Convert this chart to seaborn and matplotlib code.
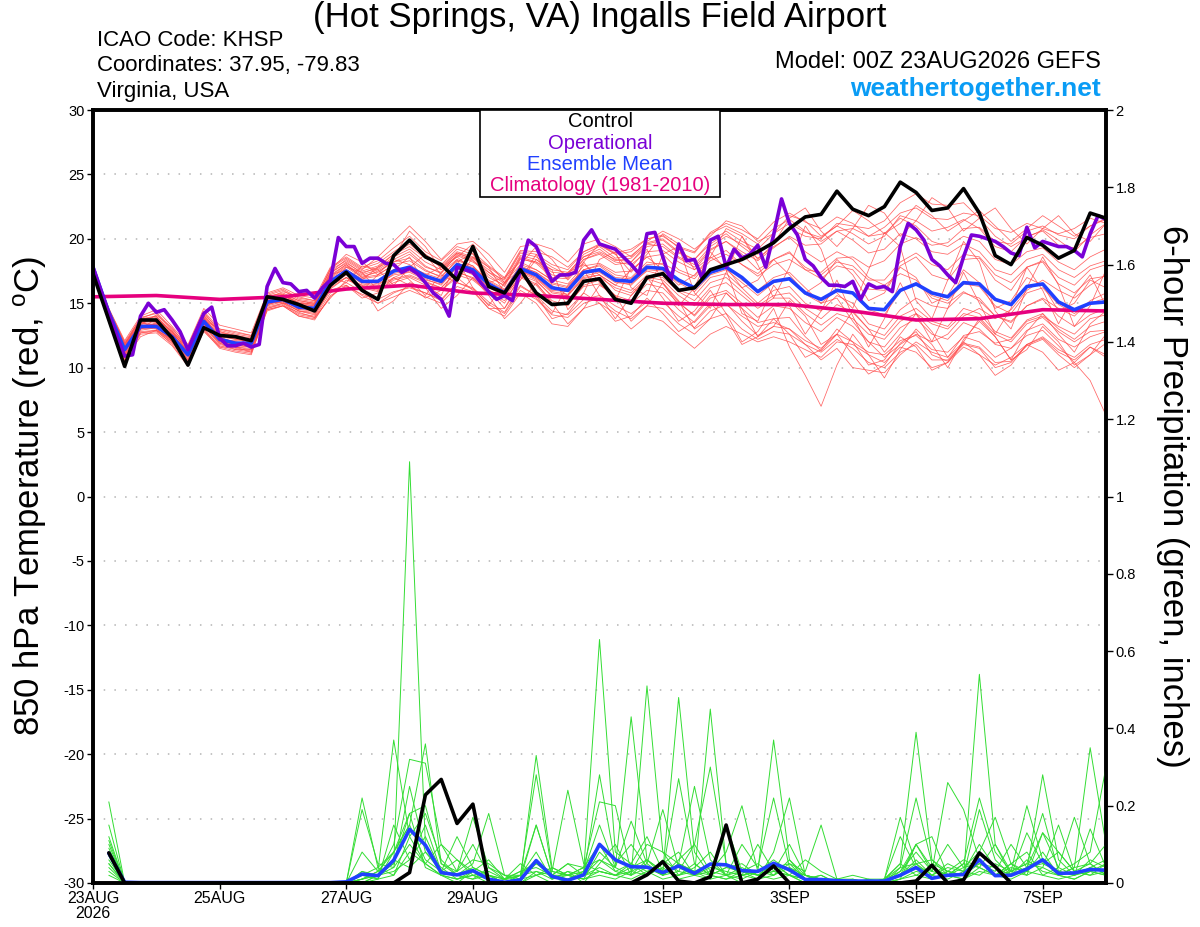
import numpy as np
import pandas as pd
import matplotlib
matplotlib.use("Agg")
import matplotlib.pyplot as plt
from matplotlib.patches import Rectangle
import seaborn as sns

# ---- time axes (00Z 23AUG2026 run, 6-hourly / 3-hourly operational) ----
start = pd.Timestamp("2026-08-23 00:00")
times6 = pd.date_range(start, periods=65, freq="6h")
times3 = pd.date_range(start, periods=129, freq="3h")
clim_times = pd.date_range(start, periods=17, freq="24h")
pcp_times = times6[1:]

tick_dates = ["2026-08-23", "2026-08-25", "2026-08-27", "2026-08-29",
              "2026-09-01", "2026-09-03", "2026-09-05", "2026-09-07"]
tick_labels = ["23AUG\n2026", "25AUG", "27AUG", "29AUG", "1SEP", "3SEP", "5SEP", "7SEP"]

# ---- 850 hPa temperature (C) ----
control_t = [17.3, 13.7, 10.1, 13.7, 13.7, 12.3, 10.2, 13.1, 12.5, 12.4, 12.1, 15.5, 15.3, 14.9, 14.4,
             16.4, 17.4, 16.0, 15.3, 18.7, 19.9, 18.6, 18.0, 16.8, 19.4, 16.3, 15.8, 17.6, 15.8, 14.9,
             15.0, 16.7, 16.9, 15.3, 15.0, 17.0, 17.3, 16.0, 16.2, 17.6, 18.0, 18.4, 19.0, 19.7, 20.8,
             21.7, 21.9, 23.7, 22.3, 21.8, 22.5, 24.4, 23.6, 22.2, 22.4, 23.9, 22.0, 18.7, 18.0, 20.1,
             19.5, 18.5, 19.1, 22.0, 21.6]

mean_t = [17.8, 14.3, 11.4, 13.2, 13.2, 12.4, 11.0, 13.6, 12.2, 11.9, 11.9, 15.1, 15.3, 14.7, 14.6,
          16.7, 17.5, 16.7, 16.7, 17.5, 17.8, 17.1, 16.7, 18.0, 17.6, 16.5, 15.8, 17.7, 17.2, 16.2,
          16.0, 17.4, 17.6, 16.8, 16.7, 17.8, 17.7, 16.8, 16.2, 17.4, 17.8, 17.0, 15.9, 16.7, 16.9,
          15.8, 15.3, 16.0, 15.8, 14.6, 14.5, 16.0, 16.5, 15.8, 15.5, 16.6, 16.5, 15.3, 14.9, 16.3,
          16.5, 15.1, 14.5, 15.0, 15.1]

oper_t = [17.8, 16.0, 14.2, 12.5, 10.9, 11.0, 14.0, 15.0, 14.3, 14.5, 13.7, 12.8, 11.4, 12.8, 14.2,
          14.7, 12.3, 11.7, 11.7, 11.9, 11.6, 11.8, 16.3, 17.7, 16.6, 16.5, 15.9, 16.0, 15.4, 16.2,
          16.8, 20.1, 19.4, 19.4, 18.1, 18.5, 18.5, 18.1, 18.0, 17.4, 17.7, 17.3, 16.6, 15.8, 15.3,
          14.0, 17.8, 17.6, 17.4, 16.6, 15.9, 15.3, 15.6, 15.2, 17.6, 19.9, 19.4, 18.0, 16.7, 17.2,
          17.2, 17.4, 19.9, 20.7, 19.6, 19.4, 19.2, 18.6, 18.0, 17.3, 20.4, 20.5, 18.6, 16.7, 19.6,
          18.3, 18.4, 16.9, 19.9, 20.2, 17.8, 19.2, 18.5, 18.8, 19.5, 17.8, 20.3, 23.1, 21.2, 20.3,
          18.4, 17.9, 17.0, 16.4, 16.4, 16.3, 16.7, 15.3, 16.5, 16.2, 16.3, 15.9, 19.4, 21.2, 20.7,
          19.9, 18.4, 17.9, 17.2, 16.6, 18.6, 20.3, 20.2, 20.0, 19.8, 19.4, 18.9, 18.7, 20.9, 19.3,
          19.8, 19.6, 19.4, 19.4, 19.1, 18.6, 20.4, 21.8, 21.5]

clim_t = [15.5, 15.6, 15.3, 15.5, 16.1, 16.4, 15.8, 15.6, 15.3, 15.0, 14.9, 14.9, 14.4, 13.7,
          13.8, 14.5, 14.4]

# ensemble members (6-hourly)
mem01 = [17.6, 14.5, 11.8, 13.9, 14.2, 12.9, 11.5, 14.2, 12.9, 12.6, 12.4, 15.6, 16.0, 15.3, 15.1,
         17.6, 18.3, 17.5, 17.9, 18.8, 19.4, 18.5, 17.9, 19.0, 18.6, 17.4, 16.8, 18.9, 18.6, 17.8,
         17.2, 18.6, 19.2, 18.3, 18.5, 19.6, 19.9, 18.9, 18.4, 19.8, 20.6, 19.8, 19.2, 20.4, 21.2,
         20.5, 20.1, 21.0, 20.4, 19.6, 20.2, 21.8, 21.4, 20.6, 20.9, 21.5, 20.8, 19.4, 19.0, 20.2,
         20.6, 19.5, 19.3, 20.1, 20.4]
mem02 = [17.9, 13.8, 10.9, 12.8, 12.9, 12.0, 10.4, 13.2, 11.8, 11.5, 11.3, 14.7, 15.0, 14.2, 14.0,
         16.1, 17.0, 16.2, 15.9, 16.8, 17.1, 16.6, 16.2, 17.5, 16.9, 15.9, 15.0, 17.1, 16.5, 15.2,
         14.8, 16.4, 16.8, 15.6, 15.2, 16.5, 16.2, 15.0, 14.1, 15.6, 16.0, 15.0, 13.9, 14.8, 14.6,
         13.5, 12.8, 13.9, 13.2, 12.0, 11.6, 13.1, 13.8, 12.6, 12.2, 13.5, 13.0, 11.8, 11.5, 12.9,
         13.4, 12.2, 11.6, 12.4, 12.8]
mem03 = [18.0, 14.2, 11.2, 13.5, 13.6, 12.6, 11.2, 13.9, 12.4, 12.2, 12.0, 15.4, 15.6, 15.0, 14.8,
         17.0, 17.9, 17.1, 17.4, 18.2, 18.5, 17.6, 17.0, 18.4, 17.9, 16.5, 16.0, 18.0, 17.6, 16.8,
         16.5, 17.9, 18.1, 17.4, 17.5, 18.6, 18.8, 17.6, 17.1, 18.5, 19.1, 18.0, 17.3, 18.4, 19.0,
         17.6, 16.9, 17.9, 17.6, 16.1, 16.0, 17.9, 18.6, 17.2, 16.8, 18.4, 18.5, 16.8, 16.0, 17.8,
         18.2, 16.5, 15.8, 16.9, 17.1]
mem04 = [17.5, 13.6, 11.0, 12.9, 13.1, 12.2, 10.9, 13.4, 12.0, 11.6, 11.5, 14.9, 15.2, 14.5, 14.4,
         16.5, 17.4, 16.5, 16.3, 17.0, 17.5, 16.9, 16.4, 17.8, 17.2, 16.0, 15.5, 17.4, 16.8, 15.5,
         15.6, 17.0, 17.2, 16.0, 15.6, 16.9, 16.5, 15.1, 14.0, 15.4, 15.8, 14.6, 13.5, 13.8, 13.9,
         12.4, 11.3, 12.6, 11.0, 9.5, 10.2, 11.9, 12.8, 11.0, 10.5, 11.8, 11.5, 10.0, 10.4, 11.8,
         12.3, 11.2, 10.6, 11.6, 11.0]
mem05 = [17.7, 14.3, 11.6, 13.4, 13.3, 12.5, 11.3, 13.8, 12.5, 12.3, 12.1, 15.2, 15.6, 15.0, 14.9,
         17.2, 18.0, 17.2, 17.6, 18.4, 19.0, 17.9, 17.3, 18.8, 18.3, 17.2, 16.3, 18.5, 18.1, 17.0,
         16.9, 18.4, 18.8, 18.0, 18.2, 19.4, 19.6, 18.6, 18.0, 19.4, 20.2, 19.6, 18.8, 19.9, 20.8,
         20.2, 20.0, 21.2, 21.0, 20.8, 21.4, 22.8, 23.5, 22.7, 22.6, 22.8, 21.6, 20.2, 19.4, 20.1,
         20.7, 19.9, 19.0, 20.3, 21.2]
mem06 = [17.4, 13.5, 10.5, 12.6, 12.7, 11.7, 10.1, 12.9, 11.5, 11.2, 11.0, 14.5, 14.8, 14.0, 13.7,
         15.6, 16.3, 15.7, 15.3, 15.9, 16.2, 15.8, 15.3, 16.6, 16.2, 15.1, 14.3, 16.3, 15.6, 14.4,
         14.1, 15.3, 15.6, 14.8, 14.2, 15.1, 15.1, 14.0, 13.1, 14.4, 14.9, 14.0, 13.2, 13.5, 13.0,
         12.1, 11.5, 12.6, 12.0, 11.2, 11.0, 12.1, 12.5, 11.4, 11.2, 12.4, 12.0, 10.8, 11.5, 12.5,
         12.9, 11.7, 10.4, 9.0, 6.3]
mem07 = [17.8, 14.0, 11.5, 13.0, 13.5, 12.3, 11.1, 13.6, 12.3, 12.0, 11.9, 15.0, 15.3, 14.8, 14.5,
         16.8, 17.6, 16.9, 17.1, 17.6, 17.8, 17.3, 16.9, 18.1, 17.8, 16.8, 16.1, 17.9, 17.4, 16.5,
         16.2, 17.6, 17.9, 17.0, 16.9, 18.0, 18.1, 17.4, 16.9, 18.3, 18.8, 18.0, 17.1, 18.0, 18.4,
         17.6, 17.4, 18.5, 18.6, 17.8, 18.3, 19.6, 20.1, 19.5, 19.7, 20.8, 20.9, 19.8, 19.6, 20.6,
         21.0, 20.3, 20.0, 21.0, 21.5]
mem08 = [17.6, 13.9, 11.1, 13.1, 13.0, 12.1, 10.7, 13.5, 12.0, 11.8, 11.7, 15.0, 15.1, 14.4, 14.3,
         16.4, 17.2, 16.3, 16.0, 16.6, 17.0, 16.4, 16.0, 17.2, 16.8, 15.8, 15.2, 17.0, 16.4, 15.0,
         15.0, 16.3, 16.5, 15.5, 15.0, 16.0, 15.8, 14.5, 13.5, 14.8, 15.0, 13.6, 12.5, 13.2, 13.0,
         11.8, 10.6, 11.5, 10.0, 9.8, 9.6, 11.0, 12.0, 11.2, 10.8, 12.5, 12.8, 11.9, 12.2, 13.6,
         14.0, 13.2, 12.6, 13.8, 14.1]
mem09 = [17.9, 14.6, 12.1, 14.0, 14.5, 13.2, 11.8, 14.6, 13.3, 13.0, 12.7, 15.8, 16.2, 15.6, 15.4,
         17.8, 18.6, 17.8, 18.3, 19.3, 20.2, 19.0, 18.3, 19.4, 19.0, 17.9, 17.0, 19.1, 19.0, 18.6,
         17.8, 19.0, 19.6, 18.9, 19.2, 20.0, 20.3, 19.3, 18.9, 20.4, 21.0, 20.4, 19.6, 20.8, 21.5,
         20.6, 19.8, 20.6, 19.9, 18.9, 19.2, 20.4, 20.0, 19.0, 18.8, 19.6, 19.0, 17.6, 17.2, 18.4,
         18.8, 17.6, 17.0, 17.9, 18.3]
mem10 = [17.5, 14.1, 11.4, 13.3, 13.2, 12.4, 11.0, 13.7, 12.2, 11.9, 11.8, 15.1, 15.4, 14.7, 14.6,
         16.7, 17.5, 16.6, 16.6, 17.5, 17.7, 17.0, 16.6, 18.0, 17.6, 16.4, 15.8, 17.6, 17.0, 16.0,
         15.9, 17.3, 17.5, 16.7, 16.4, 17.6, 17.5, 16.6, 15.9, 17.2, 17.6, 16.6, 15.6, 16.6, 16.9,
         15.7, 15.0, 16.0, 15.8, 14.5, 14.1, 15.9, 16.6, 15.6, 15.2, 16.5, 16.3, 14.8, 14.2, 15.8,
         16.2, 14.9, 14.2, 15.0, 15.4]
mem11 = [17.6, 13.7, 10.8, 12.7, 12.8, 11.9, 10.5, 13.0, 11.7, 11.4, 11.2, 14.6, 14.9, 14.1, 13.9,
         15.8, 16.6, 15.9, 15.0, 15.5, 16.0, 15.5, 15.0, 16.3, 15.9, 14.6, 14.0, 15.8, 15.0, 13.4,
         13.2, 14.6, 15.0, 14.2, 13.0, 14.0, 13.6, 12.5, 11.5, 12.6, 13.2, 12.6, 12.0, 12.4, 12.0,
         11.4, 10.8, 12.0, 11.8, 11.0, 10.4, 11.6, 11.2, 10.0, 10.4, 11.6, 11.0, 10.2, 10.8, 11.8,
         12.4, 11.4, 10.8, 11.8, 12.2]
mem12 = [17.8, 14.4, 11.9, 13.7, 14.0, 12.8, 11.6, 14.3, 12.8, 12.5, 12.3, 15.5, 15.8, 15.2, 15.0,
         17.4, 18.1, 17.4, 17.7, 18.6, 19.2, 18.2, 17.6, 18.9, 18.4, 17.0, 16.4, 18.6, 18.2, 17.2,
         17.0, 18.4, 18.9, 18.2, 18.0, 19.0, 19.1, 18.2, 17.6, 19.1, 19.8, 19.0, 18.3, 19.3, 20.2,
         19.5, 19.6, 20.6, 20.8, 20.2, 20.9, 22.0, 22.4, 21.6, 21.5, 22.0, 21.8, 20.8, 20.5, 21.2,
         20.8, 20.4, 20.8, 21.6, 21.2]
mem13 = [17.7, 13.9, 11.3, 13.2, 13.4, 12.3, 10.9, 13.5, 12.1, 11.7, 11.6, 14.9, 15.2, 14.6, 14.5,
         16.6, 17.3, 16.8, 16.5, 17.2, 17.4, 16.8, 16.5, 17.8, 17.4, 16.2, 15.6, 17.5, 17.0, 15.9,
         15.7, 17.1, 17.4, 16.6, 16.5, 17.5, 17.2, 16.0, 15.6, 17.0, 17.3, 16.2, 15.0, 16.0, 16.3,
         15.0, 14.4, 15.6, 15.0, 13.4, 13.0, 14.5, 15.4, 14.8, 14.6, 15.8, 15.4, 14.0, 13.5, 14.8,
         15.3, 14.0, 13.2, 14.1, 14.6]
mem14 = [17.4, 14.0, 11.4, 13.2, 13.4, 12.3, 11.0, 13.6, 12.3, 12.0, 11.8, 15.2, 15.4, 14.6, 14.6,
         16.9, 17.8, 17.0, 17.2, 18.0, 18.3, 17.5, 17.1, 18.3, 17.9, 16.7, 16.0, 17.8, 17.4, 16.6,
         16.3, 17.6, 18.0, 17.2, 17.0, 18.2, 18.0, 16.8, 16.1, 17.5, 17.9, 16.8, 16.0, 17.0, 17.4,
         16.2, 15.0, 15.4, 13.6, 12.0, 10.8, 11.8, 12.6, 12.0, 12.6, 14.0, 14.6, 13.8, 14.5, 16.0,
         16.8, 16.0, 15.4, 16.4, 17.2]
mem15 = [17.6, 14.2, 11.6, 13.5, 13.8, 12.7, 11.4, 14.0, 12.6, 12.3, 12.2, 15.3, 15.6, 15.1, 14.9,
         17.3, 18.2, 17.3, 17.8, 18.8, 19.6, 18.6, 17.8, 18.9, 18.5, 17.6, 16.6, 18.7, 18.4, 17.4,
         17.3, 18.8, 19.4, 18.5, 18.7, 19.7, 20.0, 19.0, 18.4, 19.6, 20.4, 19.4, 18.5, 19.4, 20.1,
         19.0, 18.2, 19.0, 18.4, 17.0, 16.4, 17.3, 16.8, 15.4, 15.0, 15.9, 15.2, 14.0, 13.6, 14.8,
         15.4, 14.6, 14.0, 15.2, 15.8]
mem16 = [17.5, 13.8, 11.0, 13.0, 13.2, 12.1, 10.6, 13.3, 11.9, 11.6, 11.4, 14.8, 15.1, 14.4, 14.2,
         16.2, 17.0, 16.4, 16.2, 16.9, 17.2, 16.7, 16.2, 17.4, 17.0, 16.0, 15.4, 17.2, 16.7, 15.6,
         15.3, 16.6, 17.0, 16.2, 15.8, 17.0, 16.8, 15.6, 14.8, 16.2, 16.6, 15.6, 14.6, 15.4, 15.4,
         14.2, 13.3, 14.2, 13.8, 12.6, 12.2, 13.6, 14.2, 13.4, 13.0, 14.2, 13.9, 12.6, 12.0, 13.4,
         13.9, 12.8, 12.0, 12.8, 12.9]
mem17 = [17.7, 14.3, 11.7, 13.6, 13.6, 12.6, 11.2, 13.8, 12.5, 12.2, 12.0, 15.3, 15.5, 14.9, 14.7,
         17.1, 18.0, 17.0, 17.5, 18.2, 18.8, 17.8, 17.4, 18.7, 18.2, 17.4, 16.5, 18.4, 18.2, 17.6,
         17.4, 18.6, 19.0, 18.4, 18.2, 19.6, 19.4, 18.5, 17.8, 19.2, 19.8, 18.8, 17.6, 18.4, 18.9,
         17.8, 17.2, 18.2, 17.9, 16.8, 16.8, 18.2, 18.9, 18.0, 17.6, 18.8, 18.6, 17.2, 16.6, 17.8,
         18.3, 17.0, 16.4, 17.6, 18.0]
mem18 = [17.8, 13.7, 10.7, 12.7, 12.9, 11.8, 10.2, 13.0, 11.6, 11.3, 11.1, 14.5, 14.8, 14.0, 13.8,
         15.5, 16.4, 15.6, 15.0, 15.8, 16.3, 15.8, 15.2, 16.6, 16.1, 14.9, 14.2, 16.0, 15.3, 14.1,
         13.9, 15.0, 15.4, 14.4, 13.8, 14.8, 14.6, 13.4, 12.6, 13.8, 14.2, 13.0, 12.2, 12.8, 12.6,
         11.8, 11.2, 12.2, 11.5, 10.4, 10.0, 11.2, 11.8, 10.6, 10.6, 11.9, 11.6, 10.4, 10.5, 11.7,
         12.2, 11.0, 10.0, 11.0, 11.9]
mem19 = [17.9, 14.5, 12.0, 13.8, 14.3, 13.0, 11.7, 14.4, 13.0, 12.7, 12.5, 15.7, 16.1, 15.4, 15.2,
         17.7, 18.5, 17.7, 18.1, 19.0, 19.8, 18.8, 18.0, 19.2, 18.8, 17.8, 16.9, 19.0, 18.8, 18.0,
         17.6, 19.0, 19.5, 18.8, 19.0, 20.0, 20.2, 19.4, 19.0, 20.5, 21.2, 20.7, 20.0, 21.3, 22.0,
         21.3, 20.8, 21.7, 21.2, 20.2, 20.4, 21.6, 21.0, 19.8, 19.4, 20.2, 19.8, 18.4, 18.0, 19.0,
         19.3, 18.2, 17.6, 18.6, 19.2]
mem20 = [17.6, 13.9, 11.2, 13.1, 13.2, 12.2, 10.8, 13.4, 12.1, 11.8, 11.6, 15.0, 15.3, 14.6, 14.5,
         16.6, 17.4, 16.6, 16.4, 17.3, 17.6, 17.0, 16.6, 17.9, 17.4, 16.3, 15.7, 17.5, 16.9, 15.8,
         15.6, 16.9, 17.2, 16.4, 16.0, 17.2, 17.0, 15.9, 15.2, 16.6, 17.0, 15.9, 14.8, 15.6, 15.8,
         14.6, 13.8, 14.9, 14.3, 13.0, 12.5, 14.0, 14.6, 13.6, 13.2, 14.6, 14.2, 12.8, 12.3, 13.7,
         14.2, 13.0, 12.2, 13.2, 13.6]
mem21 = [17.5, 14.0, 11.3, 13.4, 13.5, 12.5, 10.9, 13.5, 12.4, 11.9, 11.7, 15.0, 15.2, 14.7, 14.4,
         16.2, 17.8, 17.4, 16.0, 17.6, 18.6, 16.4, 15.6, 18.2, 18.9, 16.0, 14.6, 16.8, 18.4, 17.6,
         14.5, 15.8, 18.4, 19.0, 16.2, 15.6, 18.8, 19.4, 15.8, 14.6, 17.4, 20.2, 18.0, 15.4, 17.8,
         21.0, 19.2, 15.8, 14.6, 17.6, 20.5, 19.4, 15.2, 13.8, 16.8, 19.8, 18.2, 14.4, 13.0, 16.2,
         18.6, 16.4, 13.2, 14.8, 17.6]
mem22 = [17.9, 14.4, 11.5, 13.0, 13.8, 12.8, 11.2, 13.3, 12.6, 12.4, 11.9, 15.2, 15.0, 14.9, 14.8,
         17.0, 16.6, 17.9, 17.6, 16.4, 17.8, 18.8, 17.2, 16.6, 18.6, 17.8, 15.8, 16.8, 18.8, 16.4,
         15.6, 18.2, 16.6, 15.2, 17.8, 19.2, 16.6, 14.8, 16.2, 19.0, 17.6, 14.2, 13.6, 16.4, 14.8,
         12.6, 14.4, 16.8, 14.0, 11.6, 13.8, 16.6, 14.2, 12.0, 14.6, 17.4, 15.0, 12.6, 14.6, 17.8,
         16.0, 13.4, 15.6, 17.2, 14.8]
mem23 = [17.7, 14.1, 11.6, 13.6, 13.0, 12.0, 11.4, 13.9, 12.1, 12.1, 12.3, 14.8, 15.5, 14.5, 14.7,
         16.4, 17.0, 16.0, 17.2, 18.0, 16.8, 15.6, 17.4, 18.4, 16.2, 14.8, 16.6, 17.6, 15.4, 14.2,
         16.4, 17.6, 15.6, 13.8, 15.6, 17.0, 15.4, 13.6, 14.4, 16.0, 14.2, 12.0, 12.8, 14.6, 11.6,
         9.4, 7.0, 10.2, 12.6, 11.0, 9.2, 11.4, 13.0, 11.8, 10.0, 12.2, 13.6, 12.4, 10.6, 12.8,
         14.2, 12.6, 11.2, 13.4, 14.4]
mem24 = [17.8, 14.6, 11.9, 13.3, 14.1, 13.1, 11.5, 13.7, 13.0, 12.8, 12.5, 15.4, 15.9, 15.5, 15.2,
         17.6, 18.8, 18.2, 17.2, 18.6, 20.6, 19.4, 17.6, 18.6, 19.6, 18.2, 16.6, 18.0, 19.4, 18.4,
         16.8, 18.2, 19.6, 18.8, 17.4, 18.8, 20.4, 19.6, 17.6, 18.6, 20.8, 20.2, 18.4, 19.6, 21.6,
         22.4, 20.6, 19.4, 20.8, 22.6, 22.0, 20.2, 21.4, 23.2, 22.4, 20.6, 21.6, 22.4, 20.8, 19.6,
         20.8, 21.8, 20.4, 19.8, 21.2]
mem25 = [17.4, 13.6, 10.6, 12.4, 12.9, 12.2, 10.3, 12.8, 11.6, 11.6, 11.2, 14.4, 14.8, 14.3, 13.9,
         15.4, 16.8, 16.4, 14.4, 15.2, 16.6, 16.2, 14.6, 15.6, 17.0, 15.6, 13.8, 15.0, 16.6, 15.0,
         13.4, 14.6, 16.4, 15.6, 13.6, 14.8, 16.6, 15.2, 13.0, 13.8, 15.8, 14.6, 12.4, 13.2, 15.2,
         14.0, 11.8, 12.6, 14.4, 13.0, 11.2, 12.6, 14.2, 12.8, 10.8, 12.0, 13.8, 12.4, 10.6, 11.4,
         13.2, 12.0, 10.2, 11.0, 12.6]
mem26 = [17.6, 14.2, 11.7, 13.8, 14.0, 12.6, 11.6, 14.0, 12.8, 12.4, 12.2, 15.6, 15.7, 15.2, 15.0,
         17.4, 18.4, 17.6, 18.6, 19.8, 21.0, 19.8, 18.4, 19.6, 19.8, 18.8, 17.4, 19.4, 19.6, 19.2,
         18.2, 19.6, 20.0, 19.4, 18.6, 19.8, 20.6, 20.0, 19.2, 20.2, 21.4, 21.0, 19.8, 20.4, 21.8,
         21.4, 20.2, 21.0, 22.2, 21.4, 20.4, 21.2, 22.6, 21.8, 20.6, 21.4, 22.2, 21.0, 19.8, 20.8,
         21.8, 21.0, 20.2, 21.0, 21.6]
mem27 = [17.8, 13.8, 10.8, 13.0, 13.4, 12.4, 10.6, 13.2, 11.9, 11.4, 11.4, 14.6, 15.0, 14.4, 14.1,
         16.0, 16.4, 15.4, 15.8, 17.0, 16.4, 15.4, 16.0, 17.0, 16.0, 14.6, 14.6, 16.4, 15.6, 13.8,
         14.2, 15.8, 15.0, 13.6, 14.0, 15.4, 14.2, 12.8, 13.6, 15.0, 13.8, 11.8, 12.4, 13.8, 12.6,
         10.8, 11.4, 13.0, 12.0, 10.2, 10.6, 12.4, 11.6, 9.8, 10.4, 12.0, 11.0, 9.4, 10.2, 11.8,
         11.2, 9.8, 10.4, 11.6, 10.8]
mem28 = [17.5, 14.4, 11.8, 13.7, 13.9, 12.8, 11.3, 14.1, 12.7, 12.5, 12.2, 15.3, 15.7, 15.0, 15.0,
         17.2, 17.6, 16.8, 17.8, 18.4, 18.0, 17.2, 17.8, 18.6, 17.6, 16.6, 17.0, 18.2, 17.6, 16.8,
         17.4, 18.0, 17.2, 16.4, 17.6, 18.6, 17.6, 16.4, 17.2, 18.6, 17.8, 16.2, 16.8, 18.4, 17.2,
         15.8, 16.6, 18.4, 17.2, 15.2, 15.8, 17.8, 17.0, 15.0, 15.6, 17.6, 16.6, 14.6, 15.2, 17.0,
         16.4, 14.4, 15.0, 16.8, 16.2]
members_t = [mem01, mem02, mem03, mem04, mem05, mem06, mem07, mem08, mem09, mem10,
             mem11, mem12, mem13, mem14, mem15, mem16, mem17, mem18, mem19, mem20,
             mem21, mem22, mem23, mem24, mem25, mem26, mem27, mem28]

# ---- 6-hour precipitation (inches), 06Z 23AUG onward ----
control_p = [0.078, 0, 0, 0, 0, 0, 0, 0, 0, 0, 0, 0, 0, 0, 0, 0,
             0, 0, 0, 0.027, 0.228, 0.268, 0.154, 0.204, 0, 0, 0, 0, 0, 0, 0, 0,
             0, 0, 0.021, 0.055, 0.005, 0, 0.016, 0.150, 0, 0.010, 0.044, 0, 0, 0, 0, 0,
             0, 0, 0, 0.005, 0.046, 0, 0.008, 0.078, 0.042, 0, 0, 0, 0, 0, 0, 0]
mean_p = [0.077, 0.002, 0.001, 0.001, 0.001, 0.001, 0.001, 0.001, 0.001, 0.001, 0.001, 0.001, 0.001, 0.001, 0.001, 0.003,
          0.023, 0.019, 0.059, 0.139, 0.098, 0.027, 0.021, 0.032, 0.010, 0.002, 0.008, 0.058, 0.017, 0.007, 0.021, 0.100,
          0.060, 0.042, 0.041, 0.027, 0.044, 0.025, 0.049, 0.047, 0.032, 0.030, 0.051, 0.034, 0.009, 0.009, 0.006, 0.005,
          0.005, 0.005, 0.020, 0.040, 0.012, 0.020, 0.022, 0.060, 0.019, 0.020, 0.036, 0.060, 0.025, 0.026, 0.035, 0.033]

pcp01 = [0.21, 0, 0, 0, 0, 0, 0, 0, 0, 0, 0, 0, 0, 0, 0, 0,
         0, 0.02, 0.05, 1.09, 0.10, 0.02, 0, 0.03, 0.01, 0, 0.02, 0.06, 0.01, 0.03, 0, 0.05,
         0.10, 0.02, 0.51, 0.08, 0.02, 0.04, 0.08, 0.02, 0, 0.01, 0.05, 0.02, 0, 0, 0, 0,
         0, 0, 0.02, 0.05, 0.01, 0.03, 0.02, 0.54, 0.10, 0.02, 0.04, 0.06, 0.02, 0.01, 0.03, 0.05]
pcp02 = [0.15, 0, 0, 0, 0, 0, 0, 0, 0, 0, 0, 0, 0, 0, 0, 0,
         0.01, 0.03, 0.37, 0.12, 0.05, 0.02, 0.01, 0.02, 0, 0.01, 0.03, 0.05, 0.02, 0.01, 0.03, 0.63,
         0.08, 0.05, 0.12, 0.03, 0.27, 0.05, 0.02, 0.01, 0.02, 0.03, 0.37, 0.06, 0.01, 0, 0, 0.01,
         0, 0.01, 0.05, 0.39, 0.06, 0.02, 0.01, 0.04, 0.02, 0.01, 0.03, 0.08, 0.02, 0.04, 0.35, 0.10]
pcp03 = [0.12, 0, 0, 0, 0, 0, 0, 0, 0, 0, 0, 0, 0, 0, 0, 0,
         0.22, 0.04, 0.08, 0.15, 0.36, 0.05, 0.02, 0.01, 0.04, 0.02, 0.01, 0.33, 0.04, 0.02, 0.01, 0.08,
         0.04, 0.43, 0.06, 0.02, 0.05, 0.03, 0.01, 0.15, 0.03, 0.02, 0.05, 0.02, 0, 0, 0, 0,
         0, 0.01, 0.03, 0.08, 0.03, 0.26, 0.19, 0.06, 0.02, 0.05, 0.03, 0.28, 0.06, 0.02, 0.04, 0.03]
pcp04 = [0.10, 0, 0, 0, 0, 0, 0, 0, 0, 0, 0, 0, 0, 0, 0, 0,
         0.03, 0.02, 0.10, 0.32, 0.31, 0.10, 0.06, 0.03, 0.02, 0, 0.01, 0.05, 0.03, 0.24, 0.05, 0.03,
         0.02, 0.04, 0.06, 0.03, 0.48, 0.08, 0.02, 0.04, 0.03, 0.01, 0.08, 0.22, 0.02, 0.01, 0, 0,
         0, 0, 0.01, 0.10, 0.04, 0.02, 0.05, 0.22, 0.08, 0.03, 0.20, 0.06, 0.03, 0.05, 0.08, 0.30]
pcp05 = [0.08, 0, 0, 0, 0, 0, 0, 0, 0, 0, 0, 0, 0, 0, 0, 0,
         0.19, 0.05, 0.04, 0.25, 0.08, 0.03, 0.02, 0.05, 0.18, 0.02, 0.02, 0.28, 0.03, 0.02, 0.04, 0.06,
         0.03, 0.05, 0.02, 0.06, 0.03, 0.02, 0.45, 0.05, 0.02, 0.03, 0.02, 0.05, 0.03, 0.15, 0.01, 0.02,
         0.01, 0.01, 0.17, 0.05, 0.02, 0.04, 0.03, 0.06, 0.02, 0.03, 0.05, 0.04, 0.15, 0.03, 0.02, 0.05]
pcp06 = [0.06, 0, 0, 0, 0, 0, 0, 0, 0, 0, 0, 0, 0, 0, 0, 0,
         0.01, 0.03, 0.05, 0.18, 0.20, 0.05, 0.03, 0.17, 0.04, 0.01, 0.02, 0.15, 0.02, 0.05, 0.02, 0.28,
         0.05, 0.10, 0.04, 0.02, 0.05, 0.25, 0.06, 0.02, 0.10, 0.04, 0.22, 0.04, 0.02, 0, 0, 0,
         0, 0, 0.04, 0.22, 0.05, 0.03, 0.02, 0.19, 0.06, 0.02, 0.04, 0.13, 0.04, 0.17, 0.05, 0.02]
pcp07 = [0.05, 0, 0, 0, 0, 0, 0, 0, 0, 0, 0, 0, 0, 0, 0, 0,
         0.02, 0.01, 0.08, 0.15, 0.06, 0.03, 0.12, 0.04, 0.02, 0.01, 0.03, 0.04, 0.02, 0.05, 0.04, 0.21,
         0.20, 0.03, 0.05, 0.19, 0.04, 0.02, 0.03, 0.08, 0.20, 0.03, 0.04, 0.05, 0.01, 0.02, 0, 0,
         0.01, 0, 0.03, 0.10, 0.12, 0.02, 0.05, 0.04, 0.10, 0.03, 0.05, 0.18, 0.03, 0.02, 0.06, 0.04]
pcp08 = [0.04, 0, 0, 0, 0, 0, 0, 0, 0, 0, 0, 0, 0, 0, 0, 0,
         0.01, 0.02, 0.04, 0.10, 0.05, 0.10, 0.03, 0.10, 0.02, 0, 0.01, 0.15, 0.02, 0.02, 0.03, 0.15,
         0.04, 0.16, 0.05, 0.02, 0.03, 0.10, 0.30, 0.05, 0.02, 0.10, 0.03, 0.02, 0.01, 0, 0.01, 0,
         0, 0.01, 0.12, 0.04, 0.03, 0.10, 0.04, 0.05, 0.03, 0.10, 0.04, 0.05, 0.03, 0.02, 0.14, 0.04]
pcp09 = [0.03, 0, 0, 0, 0, 0, 0, 0, 0, 0, 0, 0, 0, 0, 0, 0,
         0, 0.01, 0.15, 0.06, 0.15, 0.03, 0.06, 0.02, 0.01, 0, 0.02, 0.03, 0.01, 0.03, 0.02, 0.04,
         0.02, 0.03, 0.10, 0.08, 0.05, 0.03, 0.02, 0.04, 0.05, 0.02, 0.03, 0.10, 0.02, 0.01, 0, 0,
         0, 0, 0.02, 0.10, 0.03, 0.02, 0.04, 0.08, 0.17, 0.05, 0.02, 0.13, 0.08, 0.03, 0.05, 0.10]
pcp10 = [0.02, 0, 0, 0, 0, 0, 0, 0, 0, 0, 0, 0, 0, 0, 0, 0,
         0.08, 0.03, 0.08, 0.18, 0.04, 0.02, 0.01, 0.02, 0.03, 0.01, 0.05, 0.02, 0.04, 0.02, 0.04, 0.10,
         0.03, 0.02, 0.04, 0.02, 0.06, 0.10, 0.03, 0.02, 0.04, 0.02, 0.03, 0.02, 0.06, 0.03, 0.01, 0.01,
         0, 0.01, 0.04, 0.05, 0.06, 0.03, 0.02, 0.05, 0.04, 0.02, 0.13, 0.05, 0.08, 0.03, 0.02, 0.03]
pcp11 = [0.07, 0, 0, 0, 0, 0, 0, 0, 0, 0, 0, 0, 0, 0, 0, 0,
         0.01, 0.02, 0.03, 0.06, 0.12, 0.03, 0.02, 0.01, 0.02, 0, 0.01, 0.02, 0, 0.01, 0.02, 0.03,
         0.02, 0.05, 0.03, 0.01, 0.02, 0.05, 0.02, 0.01, 0.03, 0.02, 0.01, 0.02, 0.01, 0, 0, 0,
         0, 0, 0.01, 0.03, 0.02, 0.01, 0.03, 0.02, 0.05, 0.03, 0.02, 0.04, 0.02, 0.01, 0.03, 0.02]
pcp12 = [0.09, 0, 0, 0, 0, 0, 0, 0, 0, 0, 0, 0, 0, 0, 0, 0,
         0.02, 0.04, 0.02, 0.08, 0.05, 0.02, 0.03, 0.06, 0.05, 0.02, 0, 0.03, 0.02, 0.01, 0.02, 0.06,
         0.04, 0.02, 0.06, 0.03, 0.02, 0.03, 0.05, 0.02, 0.01, 0.03, 0.06, 0.03, 0.02, 0.01, 0, 0,
         0, 0, 0.02, 0.06, 0.02, 0.05, 0.03, 0.10, 0.04, 0.02, 0.06, 0.03, 0.02, 0.04, 0.05, 0.02]
pcp13 = [0.05, 0, 0, 0, 0, 0, 0, 0, 0, 0, 0, 0, 0, 0, 0, 0,
         0, 0.02, 0.06, 0.04, 0.08, 0.04, 0.01, 0.03, 0.06, 0.01, 0.02, 0.08, 0.01, 0.02, 0.01, 0.02,
         0.01, 0.03, 0.02, 0.04, 0.01, 0.02, 0.04, 0.03, 0.02, 0.01, 0.02, 0.04, 0.01, 0.02, 0, 0,
         0, 0, 0.01, 0.02, 0.04, 0.02, 0.01, 0.03, 0.02, 0.04, 0.03, 0.02, 0.01, 0.02, 0.04, 0.06]
pcp14 = [0.11, 0, 0, 0, 0, 0, 0, 0, 0, 0, 0, 0, 0, 0, 0, 0,
         0.03, 0.01, 0.02, 0.12, 0.18, 0.06, 0.02, 0.04, 0.02, 0.01, 0, 0.02, 0.03, 0.02, 0.01, 0.03,
         0.02, 0.01, 0.03, 0.05, 0.08, 0.02, 0.01, 0.02, 0.03, 0.05, 0.02, 0.06, 0.02, 0.01, 0.01, 0,
         0, 0.01, 0.05, 0.02, 0.01, 0.03, 0.06, 0.04, 0.02, 0.05, 0.08, 0.02, 0.04, 0.02, 0.03, 0.02]
members_p = [pcp01, pcp02, pcp03, pcp04, pcp05, pcp06, pcp07, pcp08, pcp09, pcp10,
             pcp11, pcp12, pcp13, pcp14]

# ---- colours ----
c_ctrl = "black"
c_oper = "#7a00d6"
c_mean = "#2040ff"
c_clim = "#e6007e"
c_red = "#ff4a4a"
c_green = "#33dd33"

# long-form frames for the ensemble members
ens_t = pd.DataFrame({
    "time": np.tile(times6, len(members_t)),
    "temp": np.concatenate(members_t),
    "member": np.repeat(np.arange(len(members_t)), len(times6)),
})
ens_p = pd.DataFrame({
    "time": np.tile(pcp_times, len(members_p)),
    "pcp": np.concatenate(members_p),
    "member": np.repeat(np.arange(len(members_p)), len(pcp_times)),
})

sns.set_theme(style="white")
plt.rcParams["font.family"] = ["Liberation Sans", "DejaVu Sans"]
plt.rcParams["text.color"] = "black"
plt.rcParams["xtick.color"] = "black"
plt.rcParams["ytick.color"] = "black"
plt.rcParams["axes.labelcolor"] = "black"

fig = plt.figure(figsize=(12, 9.27), dpi=100)
ax1 = fig.add_axes([93 / 1200, 44 / 927, 1013 / 1200, 773 / 927])

sns.lineplot(data=ens_t, x="time", y="temp", units="member", estimator=None,
             color=c_red, lw=0.55, alpha=0.85, ax=ax1, legend=False)
sns.lineplot(x=clim_times, y=clim_t, color=c_clim, lw=2.6, ax=ax1)
sns.lineplot(x=times6, y=mean_t, color=c_mean, lw=2.6, ax=ax1)
sns.lineplot(x=times3, y=oper_t, color=c_oper, lw=2.6, ax=ax1)
sns.lineplot(x=times6, y=control_t, color=c_ctrl, lw=2.6, ax=ax1)

ax1.set_ylim(-30, 30)
ax1.set_xlim(times6[0], times6[-1])
yt = list(range(30, -31, -5))
ax1.set_yticks(yt)
ax1.set_yticklabels([str(v) for v in yt], fontsize=10.5)
ax1.set_xticks(pd.to_datetime(tick_dates))
ax1.set_xticklabels(tick_labels, fontsize=11.5, linespacing=1.0)
ax1.set_xlabel("")
ax1.set_ylabel("")
for v in yt[1:-1]:
    ax1.axhline(v, color="#b4b4b4", lw=1.1, ls=(0, (1, 6)), zorder=0)
ax1.tick_params(axis="both", direction="out", length=4, width=1, colors="black", pad=2,
                left=True, bottom=True)

ax2 = ax1.twinx()
sns.lineplot(data=ens_p, x="time", y="pcp", units="member", estimator=None,
             color=c_green, lw=0.7, ax=ax2, legend=False)
sns.lineplot(x=pcp_times, y=mean_p, color=c_mean, lw=2.6, ax=ax2)
sns.lineplot(x=pcp_times, y=control_p, color=c_ctrl, lw=2.6, ax=ax2)
ax2.set_ylim(0, 2)
ax2.set_xlim(times6[0], times6[-1])
pt = [0, 0.2, 0.4, 0.6, 0.8, 1, 1.2, 1.4, 1.6, 1.8, 2]
ax2.set_yticks(pt)
ax2.set_yticklabels(["0", "0.2", "0.4", "0.6", "0.8", "1", "1.2", "1.4", "1.6", "1.8", "2"],
                    fontsize=10.5)
ax2.set_ylabel("")
ax2.tick_params(axis="y", direction="out", length=5, width=1, colors="black", pad=2, right=True)

for ax in (ax1, ax2):
    for sp in ax.spines.values():
        sp.set_color("black")
        sp.set_linewidth(2.6)

# legend box
ax2.add_patch(Rectangle((0.382, 0.8875), 0.237, 0.1125, transform=ax2.transAxes,
                        facecolor="white", edgecolor="black", lw=1.2, zorder=10))
leg_items = [("Control", c_ctrl), ("Operational", c_oper),
             ("Ensemble Mean", c_mean), ("Climatology (1981-2010)", c_clim)]
for k, (txt, col) in enumerate(leg_items):
    ax2.text(0.5005, 0.9845 - k * 0.0276, txt, color=col, fontsize=14.5, ha="center",
             va="center", transform=ax2.transAxes, zorder=11)

# header texts
def px(x, y):
    return x / 1200, 1 - y / 927

fig.text(*px(600, 18), "(Hot Springs, VA) Ingalls Field Airport", fontsize=25,
         ha="center", va="center")
fig.text(*px(97, 40), "ICAO Code: KHSP", fontsize=16, ha="left", va="center")
fig.text(*px(97, 66), "Coordinates: 37.95, -79.83", fontsize=16, ha="left", va="center")
fig.text(*px(97, 92), "Virginia, USA", fontsize=16, ha="left", va="center")
fig.text(*px(1101, 62), "Model: 00Z 23AUG2026 GEFS", fontsize=17, ha="right", va="center")
fig.text(*px(1101, 89), "weathertogether.net", fontsize=19, fontweight="bold",
         color="#0a9cf5", ha="right", va="center")
fig.text(*px(30, 496), "850 hPa Temperature (red, $\\mathregular{^o}$C)", fontsize=25,
         rotation=90, ha="center", va="center")
fig.text(*px(1172, 496), "6-hour Precipitation (green, inches)", fontsize=25,
         rotation=270, ha="center", va="center")

fig.savefig("out.png", dpi=100)
